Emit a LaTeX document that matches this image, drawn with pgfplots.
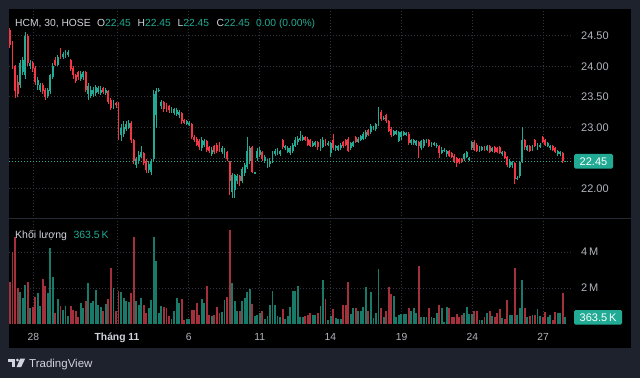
\documentclass[border=0pt]{standalone}
\usepackage{fontspec}
\setmainfont{Liberation Sans}
\usepackage{pgfplots}
\pgfplotsset{compat=1.18}
\usepackage{pgfplotstable}
\definecolor{frame}{HTML}{1E222D}
\definecolor{upc}{HTML}{22AB94}
\definecolor{dnc}{HTML}{F23645}
\definecolor{volg}{HTML}{1A7A6A}
\definecolor{volr}{HTML}{A3303B}
\definecolor{gridc}{HTML}{30343E}
\definecolor{sepc}{HTML}{262A34}
\definecolor{txt}{HTML}{B2B5BE}
\definecolor{hdr}{HTML}{D1D4DC}
\pgfplotstableread{
i o h l c v
0 24.60 24.62 24.30 24.35 2.35
1 24.38 24.42 23.95 24.00 4.02
2 24.00 24.02 23.48 23.60 4.81
3 23.75 23.85 23.50 23.55 1.99
4 23.70 24.10 23.65 24.05 1.80
5 23.90 24.15 23.85 24.10 1.43
6 23.85 24.56 23.80 24.50 2.17
7 24.50 24.52 24.00 24.05 2.35
8 24.00 24.10 23.95 24.05 0.89
9 24.05 24.08 23.90 23.98 0.93
10 23.98 24.00 23.70 23.75 1.50
11 23.70 23.82 23.62 23.78 1.70
12 23.62 23.72 23.58 23.70 1.00
13 23.70 23.72 23.55 23.60 2.48
14 23.62 23.65 23.45 23.50 2.10
15 23.52 23.65 23.48 23.62 1.70
16 23.60 23.88 23.55 23.85 4.20
17 23.82 24.05 23.80 24.00 2.60
18 24.10 24.15 24.00 24.02 0.60
19 24.02 24.18 24.00 24.15 1.40
20 24.25 24.30 24.12 24.15 1.00
21 24.15 24.24 24.12 24.20 0.76
22 24.16 24.26 24.14 24.22 1.00
23 24.18 24.27 24.15 24.24 0.43
24 24.10 24.12 23.92 23.95 1.00
25 23.98 24.00 23.80 23.85 0.80
26 23.85 23.88 23.72 23.76 0.70
27 23.90 23.93 23.78 23.82 0.40
28 23.80 23.92 23.76 23.88 1.17
29 23.82 23.93 23.78 23.90 0.89
30 23.90 23.92 23.58 23.62 1.26
31 23.55 23.72 23.45 23.68 2.30
32 23.52 23.68 23.48 23.62 1.17
33 23.55 23.66 23.50 23.62 1.26
34 23.56 23.70 23.52 23.66 1.90
35 23.58 23.68 23.55 23.64 1.07
36 23.56 23.68 23.53 23.62 0.94
37 23.64 23.66 23.54 23.58 0.70
38 23.56 23.65 23.53 23.62 1.13
39 23.60 23.62 23.38 23.42 1.40
40 23.45 23.48 23.28 23.32 3.10
41 23.32 23.45 23.30 23.40 2.00
42 23.40 23.42 23.32 23.36 0.70
43 23.40 23.42 22.80 22.85 1.85
44 22.88 23.05 22.78 23.00 1.80
45 22.90 23.10 22.85 23.00 1.45
46 22.98 23.10 22.95 23.05 1.26
47 23.00 23.12 22.98 23.08 1.20
48 23.08 23.10 22.75 22.80 1.70
49 22.80 22.82 22.40 22.45 4.81
50 22.38 22.52 22.34 22.48 1.26
51 22.45 22.62 22.40 22.55 1.07
52 22.52 22.70 22.50 22.60 1.45
53 22.58 22.60 22.38 22.42 1.07
54 22.45 22.48 22.26 22.30 0.60
55 22.30 22.45 22.25 22.40 0.89
56 22.28 22.48 22.22 22.45 1.35
57 22.48 23.62 22.45 23.55 4.85
58 23.20 23.65 23.00 23.60 3.50
59 23.60 23.64 23.58 23.62 0.60
60 23.35 23.45 23.30 23.42 1.00
61 23.42 23.44 23.26 23.30 0.94
62 23.38 23.40 23.25 23.30 0.89
63 23.35 23.37 23.24 23.28 0.43
64 23.26 23.33 23.24 23.30 0.28
65 23.24 23.32 23.20 23.30 0.70
66 23.22 23.32 23.18 23.28 1.45
67 23.20 23.28 23.15 23.26 1.17
68 23.24 23.26 23.06 23.10 1.40
69 23.12 23.14 23.05 23.08 0.24
70 23.06 23.12 23.04 23.10 0.30
71 23.04 23.10 23.02 23.08 0.30
72 23.05 23.07 22.82 22.85 0.80
73 22.85 22.88 22.76 22.80 0.80
74 22.82 22.85 22.70 22.72 1.17
75 22.78 22.82 22.64 22.68 0.52
76 22.66 22.85 22.62 22.80 1.40
77 22.72 22.82 22.68 22.78 1.17
78 22.78 22.80 22.60 22.64 2.13
79 22.68 22.70 22.58 22.62 0.52
80 22.56 22.68 22.54 22.64 0.43
81 22.70 22.72 22.56 22.60 0.52
82 22.72 22.74 22.58 22.62 0.94
83 22.74 22.76 22.60 22.62 0.60
84 22.60 22.70 22.56 22.66 0.65
85 22.55 22.66 22.50 22.62 1.35
86 22.60 22.62 22.45 22.48 1.50
87 22.45 22.46 21.90 22.12 5.20
88 21.95 22.26 21.85 22.22 2.30
89 21.98 22.24 21.84 22.22 1.26
90 22.12 22.24 22.08 22.20 0.70
91 22.20 22.22 22.05 22.12 0.70
92 22.12 22.35 22.10 22.32 1.26
93 22.25 22.42 22.20 22.38 1.45
94 22.35 22.85 22.32 22.62 1.80
95 22.45 22.70 22.40 22.66 1.93
96 22.68 22.70 22.26 22.28 1.13
97 22.25 22.28 22.24 22.27 0.43
98 22.50 22.66 22.46 22.62 0.52
99 22.55 22.68 22.52 22.64 0.60
100 22.60 22.62 22.45 22.48 0.70
101 22.45 22.55 22.42 22.52 0.30
102 22.36 22.48 22.34 22.44 0.43
103 22.40 22.50 22.36 22.46 1.07
104 22.45 22.62 22.42 22.60 1.85
105 22.56 22.65 22.54 22.62 1.07
106 22.58 22.66 22.55 22.63 0.43
107 22.56 22.64 22.54 22.62 0.40
108 22.80 22.82 22.65 22.68 0.85
109 22.66 22.72 22.64 22.70 0.30
110 22.60 22.70 22.58 22.66 0.46
111 22.58 22.70 22.55 22.66 0.94
112 22.62 22.75 22.58 22.72 1.85
113 22.70 22.84 22.68 22.80 1.85
114 22.76 22.86 22.72 22.82 2.10
115 22.80 22.95 22.78 22.83 0.39
116 22.80 22.88 22.78 22.84 0.39
117 22.84 22.86 22.78 22.80 0.46
118 22.82 22.84 22.70 22.72 0.52
119 22.80 22.82 22.68 22.70 0.60
120 22.70 22.78 22.68 22.74 0.50
121 22.72 22.78 22.68 22.76 0.50
122 22.76 22.78 22.64 22.68 0.60
123 22.66 22.82 22.62 22.74 1.00
124 22.68 22.84 22.66 22.80 2.44
125 22.80 22.82 22.70 22.72 1.40
126 22.72 22.78 22.70 22.75 0.20
127 22.58 22.76 22.52 22.74 0.46
128 22.80 22.90 22.64 22.66 0.81
129 22.66 22.72 22.62 22.70 0.33
130 22.64 22.72 22.62 22.70 0.28
131 22.66 22.75 22.64 22.72 0.28
132 22.76 22.78 22.66 22.70 1.04
133 22.80 22.82 22.70 22.72 1.04
134 22.82 22.84 22.60 22.62 2.33
135 22.66 22.76 22.64 22.74 0.57
136 22.70 22.78 22.68 22.76 0.89
137 22.84 22.86 22.74 22.76 0.89
138 22.76 22.84 22.74 22.82 0.70
139 22.80 22.88 22.78 22.86 0.70
140 22.82 22.92 22.80 22.90 0.94
141 22.84 22.96 22.82 22.92 2.08
142 22.96 22.98 22.86 22.88 0.70
143 22.92 23.05 22.90 23.02 1.80
144 22.98 23.02 22.96 23.00 0.31
145 22.98 23.08 22.94 23.06 0.60
146 23.04 23.34 23.02 23.26 3.04
147 23.26 23.28 23.10 23.14 0.89
148 23.14 23.18 23.12 23.16 0.37
149 23.20 23.22 23.08 23.10 0.70
150 23.10 23.12 22.92 22.95 2.08
151 22.98 23.00 22.85 22.88 1.67
152 22.88 22.96 22.86 22.94 1.56
153 22.90 22.96 22.88 22.94 0.41
154 22.78 22.94 22.76 22.92 0.50
155 22.84 22.94 22.80 22.92 0.57
156 22.88 22.94 22.86 22.92 0.57
157 22.88 22.93 22.86 22.91 0.57
158 22.90 22.92 22.72 22.75 0.89
159 22.74 22.82 22.72 22.80 0.70
160 22.74 22.82 22.72 22.79 0.89
161 22.72 22.80 22.70 22.78 0.60
162 22.76 22.78 22.50 22.70 3.20
163 22.66 22.80 22.64 22.78 0.37
164 22.70 22.82 22.66 22.80 0.37
165 22.76 22.82 22.74 22.80 0.37
166 22.80 22.82 22.68 22.70 0.89
167 22.70 22.76 22.68 22.74 0.37
168 22.72 22.77 22.70 22.75 0.31
169 22.70 22.74 22.66 22.72 0.63
170 22.70 22.72 22.50 22.58 1.07
171 22.58 22.68 22.56 22.64 0.89
172 22.62 22.66 22.60 22.64 0.13
173 22.56 22.64 22.52 22.62 0.94
174 22.62 22.64 22.52 22.54 0.89
175 22.58 22.60 22.50 22.52 0.41
176 22.54 22.56 22.42 22.46 0.41
177 22.50 22.52 22.36 22.42 0.56
178 22.48 22.50 22.40 22.44 0.41
179 22.48 22.50 22.42 22.45 0.50
180 22.48 22.58 22.46 22.56 0.63
181 22.52 22.62 22.50 22.60 0.94
182 22.48 22.52 22.46 22.50 0.56
183 22.66 22.78 22.64 22.76 0.56
184 22.76 22.80 22.62 22.64 0.70
185 22.72 22.74 22.60 22.62 0.70
186 22.62 22.70 22.60 22.68 0.22
187 22.64 22.70 22.62 22.68 0.22
188 22.68 22.70 22.62 22.64 0.41
189 22.64 22.71 22.62 22.69 0.60
190 22.69 22.71 22.58 22.60 0.74
191 22.62 22.68 22.60 22.66 0.44
192 22.68 22.70 22.58 22.60 0.41
193 22.66 22.68 22.58 22.60 0.60
194 22.68 22.70 22.56 22.58 0.81
195 22.56 22.62 22.54 22.60 0.31
196 22.60 22.62 22.48 22.50 0.26
197 22.52 22.54 22.35 22.38 1.33
198 22.36 22.48 22.34 22.44 0.50
199 22.38 22.46 22.34 22.44 0.50
200 22.42 22.44 22.07 22.16 3.10
201 22.16 22.20 22.14 22.18 0.50
202 22.20 22.46 22.18 22.44 0.89
203 22.44 23.00 22.42 22.80 2.44
204 22.80 22.82 22.64 22.68 0.89
205 22.64 22.72 22.62 22.70 0.37
206 22.70 22.72 22.60 22.62 0.44
207 22.64 22.72 22.62 22.70 0.50
208 22.80 22.82 22.68 22.70 0.50
209 22.66 22.74 22.64 22.72 0.81
210 22.68 22.74 22.66 22.72 0.44
211 22.84 22.86 22.74 22.76 0.41
212 22.80 22.82 22.70 22.72 0.67
213 22.70 22.76 22.68 22.74 0.37
214 22.66 22.72 22.64 22.70 0.50
215 22.70 22.72 22.62 22.64 0.20
216 22.66 22.68 22.58 22.60 0.67
217 22.56 22.64 22.54 22.62 0.59
218 22.56 22.62 22.54 22.60 0.59
219 22.58 22.60 22.42 22.46 1.72
220 22.45 22.45 22.45 22.45 0.3635
}\candles
\pgfplotsset{
  chartbase/.style={scale only axis, width=564pt, xmin=9, xmax=573,
    axis line style={draw=none}, major tick length=0pt,
    xtick={33.3,117,188.7,259.7,330.3,401.7,472.3,543},
    xmajorgrids, ymajorgrids,
    major grid style={gridc, line width=0.8pt, dash pattern=on 1pt off 2pt},
    tick label style={text=txt},
    yticklabel pos=right,
    yticklabel style={anchor=west, inner sep=0pt, xshift=8pt, font=\fontsize{11}{13}\selectfont},
    clip=true,
  },
  wick/.style={draw=none, mark=none, forget plot, error bars/.cd, y dir=both, y explicit, error mark=none, error bar style={draw=#1, line width=1pt}},
  body/.style={draw=none, mark=none, forget plot, error bars/.cd, y dir=both, y explicit, error mark=none, error bar style={draw=#1, line width=1.9pt}},
}
\begin{document}
\begin{tikzpicture}[x=1pt,y=1pt]
\fill[frame] (0,0) rectangle (640,378);
\fill[black] (8.5,30) rectangle (631,369);
% price pane
\begin{axis}[chartbase, at={(9pt,159pt)}, anchor=south west, height=210pt,
  ymin=21.505, ymax=24.936,
  ytick={22,22.5,23,23.5,24,24.5},
  yticklabels={22.00,,23.00,23.50,24.00,24.50},
  xticklabels={}]
\addplot[upc, line width=0.8pt, dash pattern=on 1pt off 2pt] coordinates {(9,22.45) (573,22.45)};
\addplot[wick=upc] table[x expr={10+2.524*\thisrow{i}}, y expr={\thisrow{c}<\thisrow{o} ? nan : (\thisrow{h}+\thisrow{l})/2}, y error expr={(\thisrow{h}-\thisrow{l})/2}] {\candles};
\addplot[wick=dnc] table[x expr={10+2.524*\thisrow{i}}, y expr={\thisrow{c}<\thisrow{o} ? (\thisrow{h}+\thisrow{l})/2 : nan}, y error expr={(\thisrow{h}-\thisrow{l})/2}] {\candles};
\addplot[body=upc] table[x expr={10+2.524*\thisrow{i}}, y expr={\thisrow{c}<\thisrow{o} ? nan : (\thisrow{o}+\thisrow{c})/2}, y error expr={max(abs(\thisrow{c}-\thisrow{o})/2,0.006)}] {\candles};
\addplot[body=dnc] table[x expr={10+2.524*\thisrow{i}}, y expr={\thisrow{c}<\thisrow{o} ? (\thisrow{o}+\thisrow{c})/2 : nan}, y error expr={max(abs(\thisrow{c}-\thisrow{o})/2,0.006)}] {\candles};
\end{axis}
% volume pane
\begin{axis}[chartbase, at={(9pt,54pt)}, anchor=south west, height=104pt,
  ymin=0, ymax=5.778,
  ytick={2,4}, yticklabels={2\,M,4\,M},
  xticklabels={28,{\color{hdr}\bfseries Tháng 11},6,11,14,19,24,27},
  xticklabel style={anchor=base, inner sep=0pt, yshift=-16.7pt, font=\fontsize{10.3}{12}\selectfont}]
\addplot[ycomb, draw=volg, line width=1.9pt, mark=none] table[x expr={10+2.524*\thisrow{i}}, y expr={\thisrow{c}<\thisrow{o} ? nan : \thisrow{v}}] {\candles};
\addplot[ycomb, draw=volr, line width=1.9pt, mark=none] table[x expr={10+2.524*\thisrow{i}}, y expr={\thisrow{c}<\thisrow{o} ? \thisrow{v} : nan}] {\candles};
\end{axis}
% pane separator
\draw[sepc, line width=1pt] (8.5,159) -- (631,159);
% last price box
\fill[upc, rounded corners=1.5pt] (574,209.3) rectangle (613,224);
\node[text=white, inner sep=0pt, font=\fontsize{11}{13}\selectfont] at (593.5,216.6) {22.45};
% last volume box
\fill[upc, rounded corners=1.5pt] (574,53.3) rectangle (622,68);
\node[text=white, inner sep=0pt, font=\fontsize{11}{13}\selectfont] at (598,60.7) {363.5\,K};
% header legend
\node[anchor=base west, inner sep=0pt, font=\fontsize{10.3}{12}\selectfont] at (15,351.3)
 {\color{hdr}HCM, 30, HOSE\hspace{6.3pt}O\color{upc}22.45\hspace{6.8pt}\color{hdr}H\color{upc}22.45\hspace{6.8pt}\color{hdr}L\color{upc}22.45\hspace{7.5pt}\color{hdr}C\color{upc}22.45\hspace{6.3pt}0.00 (0.00\%)};
\node[anchor=base west, inner sep=0pt, font=\fontsize{10.5}{12}\selectfont] at (15,139.8)
 {\color{hdr}Khối lượng\hspace{6.5pt}\color{upc}363.5\,K};
% TradingView logo
\fill[hdr] (8.3,19.5) rectangle (15.3,16.5);
\fill[hdr] (11.8,19.5) rectangle (15.3,11);
\fill[hdr] (17.4,18) circle (1.6);
\fill[hdr] (20.2,19.5) -- (25.2,19.5) -- (21.2,11) -- (16.6,11) -- cycle;
\node[anchor=base west, inner sep=0pt, text=hdr, font=\fontsize{11.5}{13}\selectfont] at (29,10.7) {TradingView};
\end{tikzpicture}
\end{document}
